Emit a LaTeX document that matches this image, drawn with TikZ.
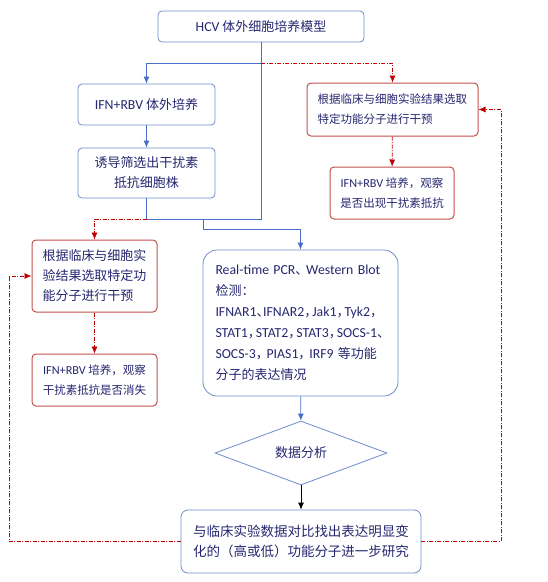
\documentclass[tikz,border=0pt]{standalone}
\usepackage{fontspec}
\setmainfont{Noto Sans CJK SC}
\newfontfamily\latfont[Scale=1.06]{Carlito}
\newfontfamily\cjkhalt[RawFeature=+halt]{Noto Sans CJK SC}
\newcommand\lt[1]{{\latfont #1}}
\newcommand\cm{，\kern1.5pt}
\usepackage{xcolor}
\usetikzlibrary{arrows.meta,shapes.geometric,calc}

\definecolor{txt}{HTML}{262670}
\definecolor{bluebd}{HTML}{6F8CC8}
\definecolor{bluearr}{HTML}{4A6FC8}
\definecolor{redbd}{HTML}{C0504D}
\definecolor{redarr}{HTML}{C00000}

\begin{document}
\begin{tikzpicture}[x=1pt, y=-1pt,
  box/.style={draw, rounded corners=4pt, inner sep=0pt, text=txt, font=\fontsize{13}{20}\selectfont},
  bluebox/.style={box, draw=bluebd, line width=0.8pt, align=center},
  redbox/.style={box, draw=redbd, line width=1pt, align=center, font=\fontsize{11.5}{20}\selectfont},
  decision/.style={draw=bluebd, line width=0.8pt, diamond, inner sep=0pt, text=txt, font=\fontsize{13}{20}\selectfont},
  blueline/.style={draw=bluearr, line width=0.8pt, -{Latex[length=7pt,width=6pt]}},
  redline/.style={draw=redarr, line width=0.7pt, dash pattern=on 4pt off 1.5pt on 1pt off 1.5pt, -{Latex[length=7pt,width=6pt]}}
]
\useasboundingbox (0,0) rectangle (548,582);

% main column
\node[bluebox, minimum width=206pt, minimum height=31pt] (model) at (261,26.5) {\lt{HCV} 体外细胞培养模型};
\node[bluebox, minimum width=137pt, minimum height=41pt] (culture) at (146.5,104.5) {\lt{IFN+RBV} 体外培养};
\node[bluebox, minimum width=137pt, minimum height=50pt] (screen) at (146.5,173) {诱导筛选出干扰素\\抵抗细胞株};
\node[bluebox, rounded corners=14pt, minimum width=195pt, minimum height=146pt, text width=170pt, align=left,
  font=\cjkhalt\fontsize{13}{21}\selectfont] (detect) at (300.5,323)
  {\lt{Real-time PCR}、\lt{ Western Blot}\\检测：\\\lt{IFNAR1}、\lt{IFNAR2}\cm\lt{Jak1}\cm\lt{Tyk2}，\\\lt{STAT1}\cm\lt{STAT2}\cm\lt{STAT3}\cm\lt{SOCS-1}、\\\lt{SOCS-3}，\lt{ PIAS1}，\lt{ IRF9} 等功能\\分子的表达情况};
\node[decision, minimum width=172pt, minimum height=52pt] (analysis) at (301,453) {数据分析};
\node[bluebox, rounded corners=7pt, minimum width=240pt, minimum height=63pt, font=\fontsize{13.5}{20}\selectfont] (study) at (301,541.5)
  {与临床实验数据对比找出表达明显变\\化的（高或低）功能分子进一步研究};

% intervention branches
\node[redbox, minimum width=171pt, minimum height=53pt, text width=150pt, align=left] (rtop) at (392.5,109.5)
  {根据临床与细胞实验结果选取\\特定功能分子进行干预};
\node[redbox, minimum width=124pt, minimum height=52pt] (rbot) at (392,193)
  {\lt{IFN+RBV} 培养，观察\\是否出现干扰素抵抗};
\node[redbox, font=\fontsize{13}{20}\selectfont, minimum width=125pt, minimum height=72pt, text width=104pt, align=justify] (ltop) at (94.5,276)
  {根\hfill 据\hfill 临\hfill 床\hfill 与\hfill 细\hfill 胞\hfill 实\\验\hfill 结\hfill 果\hfill 选\hfill 取\hfill 特\hfill 定\hfill 功\\能分子进行干预};
\node[redbox, minimum width=125pt, minimum height=52pt] (lbot) at (94.5,380)
  {\lt{IFN+RBV} 培养，观察\\干扰素抵抗是否消失};

\coordinate (split) at (261,63);
\coordinate (merge) at (203,219);
\coordinate (lret) at (9,541.5);
\coordinate (rret) at (501,541.5);

% connectors
\draw[draw=bluearr, line width=0.8pt] (model.south) -- (model.south |- merge) -- (screen.south |- merge) -- (screen.south);
\draw[blueline] (model.south |- split) -| (culture.north);
\draw[blueline] (culture) -- (screen);
\draw[blueline] (merge) -- ++(0,10) -| (detect.north);
\draw[blueline] (detect) -- (analysis);
\draw[line width=0.8pt, -{Latex[length=7pt,width=6pt]}] (analysis) -- (study);
\draw[redline] (model.south |- split) -| (rtop.north);
\draw[redline] (rtop) -- (rbot);
\draw[redline] (screen.south |- merge) -| (ltop.north);
\draw[redline] (ltop) -- (lbot);
\draw[redline] (study.west) -- (lret) |- (ltop.west);
\draw[redline] (study.east) -- (rret) |- (rtop.east);
\end{tikzpicture}
\end{document}
